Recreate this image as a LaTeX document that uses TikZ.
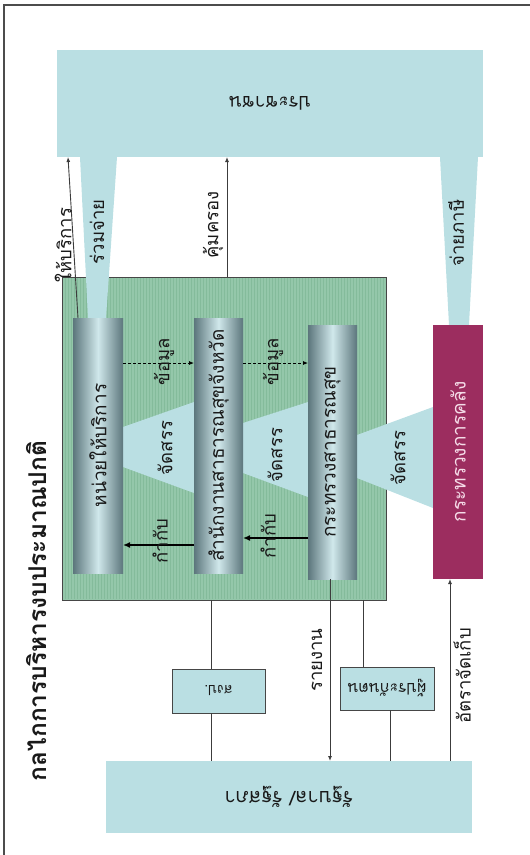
\documentclass[tikz,border=0pt]{standalone}
\usepackage{fontspec}
\setmainfont[Script=Thai]{Loma}
\usetikzlibrary{calc,arrows.meta}
\definecolor{lcyan}{RGB}{186,223,227}
\definecolor{greenbase}{RGB}{148,199,170}
\definecolor{greenstripe}{RGB}{132,187,155}
\definecolor{coledge}{RGB}{92,118,124}
\definecolor{colmid}{RGB}{208,232,235}
\definecolor{magentabox}{RGB}{156,45,95}
\definecolor{magtext}{RGB}{245,220,232}
\definecolor{boxline}{RGB}{70,70,70}
\definecolor{linegray}{RGB}{60,60,60}
\definecolor{txt}{RGB}{25,25,25}
\tikzset{
  shapebox/.style={draw=none, inner sep=0pt, outer sep=0pt},
  bigbox/.style={shapebox, fill=lcyan},
  colbox/.style={shapebox, left color=coledge, right color=coledge, middle color=colmid},
  finbox/.style={shapebox, fill=magentabox},
  smallbox/.style={draw=boxline, fill=lcyan, line width=1pt, inner sep=0pt, outer sep=0pt},
  greenbox/.style={shapebox, fill=greenbase, draw=boxline, line width=0.8pt},
  beam/.style={fill=lcyan, draw=none},
  lbl/.style={rotate=90, font=\fontsize{18.5}{20}\selectfont, text=txt, inner sep=0pt},
  collbl/.style={rotate=90, font=\fontsize{19}{21}\selectfont, text=txt, inner sep=0pt},
  flipped/.style={rotate=180, font=\fontsize{19}{21}\selectfont, text=txt, inner sep=0pt},
  conn/.style={draw=linegray, line width=0.9pt},
  arr/.style={conn, -{Latex[length=5pt,width=4pt]}},
  dasharr/.style={draw=black, line width=0.8pt, dash pattern=on 3pt off 2pt, -{Latex[length=5pt,width=4pt]}},
  ctrlarr/.style={draw=black, line width=2.4pt, -{Latex[length=7pt,width=6pt]}},
  frameline/.style={draw=gray!60!black, line width=1.8pt}
}
\begin{document}
\begin{tikzpicture}[x=1pt,y=-1pt]
\useasboundingbox (0,0) rectangle (530,855);
% frame
\coordinate (fa) at (530,5);
\coordinate (fb) at (4,5);
\coordinate (fc) at (4,855);
\draw[frameline] (fa) -- (fb) -- (fc);

% big boxes
\node[bigbox, minimum width=426, minimum height=107] (people) at (270,103.5) {};
\node[flipped] at (people) {ประชาชน};
\node[bigbox, minimum width=366, minimum height=72] (gov) at (289,797) {};
\node[flipped, font=\fontsize{20}{22}\selectfont] at (gov) {รัฐบาล/ รัฐสภา};

% green box with stripes
\node[greenbox, minimum width=324, minimum height=323] (green) at (224,438.5) {};
\foreach \i in {65,68,...,385} {
  \draw[greenstripe, line width=0.6pt] (\i,278) -- (\i,599);
}

% wedges (allocations)
\fill[lcyan] (123,427) -- (194,402) -- (194,493) -- (123,467) -- cycle;
\fill[lcyan] (243,423) -- (308,402) -- (308,497) -- (243,473) -- cycle;
\fill[lcyan] (357,435) -- (433,407) -- (433,508) -- (357,478) -- cycle;

% beams to people
\fill[lcyan] (80,157) -- (117,157) -- (106,318) -- (88,318) -- cycle;
\fill[lcyan] (440,157) -- (478,157) -- (469,325) -- (449,325) -- cycle;

% columns
\node[colbox, minimum width=50, minimum height=255] (c1) at (98,445.5) {};
\node[collbl] at (c1) {หน่วยให้บริการ};
\node[colbox, minimum width=49, minimum height=255] (c2) at (218.5,445.5) {};
\node[collbl] at (c2) {สำนักงานสาธารณสุขจังหวัด};
\node[colbox, minimum width=49, minimum height=254] (c3) at (332.5,452) {};
\node[collbl] at (c3) {กระทรวงสาธารณสุข};
\node[finbox, minimum width=50, minimum height=254] (fin) at (458,452) {};
\node[collbl, text=magtext] at (fin) {กระทรวงการคลัง};

% small boxes
\node[smallbox, minimum width=93, minimum height=44] (sngp) at (218.5,691) {};
\node[flipped, font=\fontsize{14}{16}\selectfont] at (sngp) {สงป.};
\node[smallbox, minimum width=94, minimum height=43] (insured) at (387,688.5) {};
\node[flipped, font=\fontsize{16}{18}\selectfont] at (insured) {ผู้ประกันตน};

% connectors
\draw[arr] ([xshift=5]c1.north west) -- ([xshift=11]people.south west);
\draw[arr] ([xshift=3]green.north) -- ([xshift=3]green.north |- people.south);
\draw[dasharr] (c1.east |- 0,363) -- (c2.west |- 0,363);
\draw[dasharr] (c2.east |- 0,363) -- (c3.west |- 0,363);
\draw[ctrlarr] (c3.west |- 0,538) -- (c2.east |- 0,538);
\draw[ctrlarr] (c2.west |- 0,545) -- (c1.east |- 0,545);
\draw[conn] ([xshift=-7]sngp.north |- green.south) -- ([xshift=-7]sngp.north);
\draw[conn] ([xshift=-7]sngp.south) -- ([xshift=-7]sngp.south |- gov.north);
\draw[arr] ([xshift=-2.5]c3.south) -- ([xshift=-2.5]c3.south |- gov.north);
\draw[conn] ([xshift=-24]insured.north |- green.south) -- ([xshift=-24]insured.north);
\draw[conn] ([xshift=3]insured.south) -- ([xshift=3]insured.south |- gov.north);
\draw[arr] ([xshift=-8]fin.south |- gov.north) -- ([xshift=-8]fin.south);

% labels
\node[lbl] at (63,245) {ให้บริการ};
\node[lbl] at (97,232) {ร่วมจ่าย};
\node[lbl] at (213,225) {คุ้มครอง};
\node[lbl] at (456,233) {จ่ายภาษี};
\node[lbl] at (164,362) {ข้อมูล};
\node[lbl] at (273,362) {ข้อมูล};
\node[lbl] at (165,448) {จัดสรร};
\node[lbl] at (275,455) {จัดสรร};
\node[lbl] at (398,458) {จัดสรร};
\node[lbl] at (160,541) {กำกับ};
\node[lbl] at (268,536) {กำกับ};
\node[lbl] at (317,660) {รายงาน};
\node[lbl] at (462,676) {อัตราจัดเก็บ};

% title
\node[rotate=90, font=\fontsize{24.5}{27}\selectfont\bfseries, text=txt, inner sep=0pt] at (37,611) {กลไกการบริหารงบประมาณปกติ};
\end{tikzpicture}
\end{document}
